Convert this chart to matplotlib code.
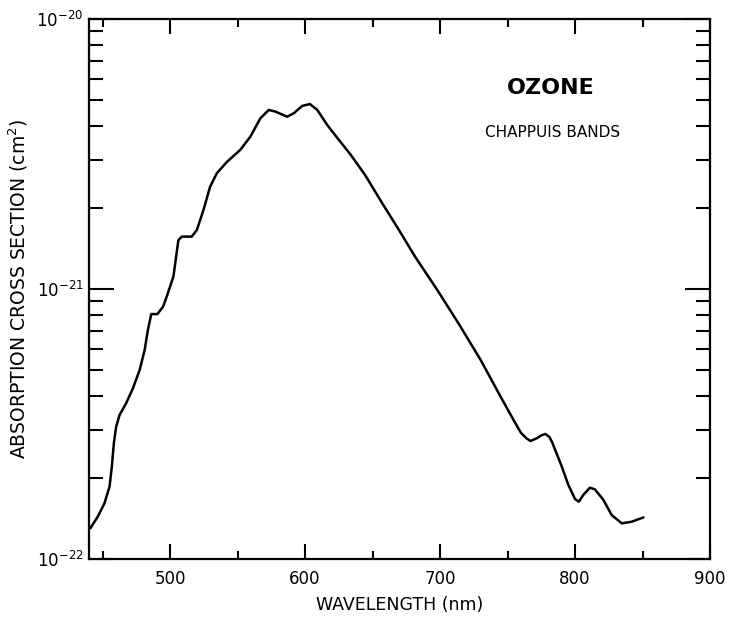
import numpy as np
import matplotlib
matplotlib.use("Agg")
import matplotlib.pyplot as plt
from matplotlib.ticker import LogLocator, NullFormatter, FixedLocator

# Ozone Chappuis band absorption cross section
wavelength = [441, 446.5, 451.4, 455.2, 456.9, 458.4, 460.1, 462.6, 467.5,
              472.5, 477.5, 481.2, 483.6, 486.1, 490.6, 494.8, 497.5, 502.5,
              506.2, 508.7, 516.1, 519.9, 524.8, 529.7, 534.7, 542.2, 552,
              559.5, 566.9, 573.1, 578.1, 586.7, 591.7, 597.9, 603.6, 609.1,
              616.5, 625.1, 634, 644.5, 657, 669.5, 681.6, 698, 714, 730, 745,
              755, 760, 764, 767, 772, 775, 778, 781, 783, 786, 790, 795, 800,
              802.8, 806.1, 811, 814.7, 821, 827.1, 834.6, 842, 850.7]
log_sigma = [-21.886, -21.843, -21.794, -21.732, -21.658, -21.571, -21.51,
             -21.467, -21.423, -21.368, -21.3, -21.226, -21.152, -21.093,
             -21.093, -21.066, -21.029, -20.954, -20.819, -20.806, -20.806,
             -20.781, -20.707, -20.621, -20.571, -20.529, -20.485, -20.436,
             -20.368, -20.337, -20.343, -20.362, -20.349, -20.322, -20.315,
             -20.337, -20.393, -20.448, -20.504, -20.578, -20.681, -20.781,
             -20.881, -21.004, -21.13, -21.262, -21.4, -21.49, -21.533,
             -21.553, -21.563, -21.552, -21.542, -21.537, -21.548, -21.567,
             -21.605, -21.655, -21.725, -21.778, -21.788, -21.763, -21.736,
             -21.742, -21.781, -21.837, -21.868, -21.862, -21.846]
sigma = [10 ** v for v in log_sigma]

x_ticks = [500, 600, 700, 800, 900]
x_minor = [450, 550, 650, 750, 850]
y_ticks = [1e-22, 1e-21, 1e-20]
y_tick_labels = ["10$^{-22}$", "10$^{-21}$", "10$^{-20}$"]

fig = plt.figure(figsize=(7.37, 6.2), dpi=100)
ax = fig.add_axes([0.1208, 0.0984, 0.8426, 0.871])

ax.plot(wavelength, sigma, color="black", lw=1.8,
        solid_joinstyle="round", solid_capstyle="round")

ax.set_yscale("log")
ax.set_xlim(440, 900)
ax.set_ylim(1e-22, 1e-20)

ax.xaxis.set_major_locator(FixedLocator(x_ticks))
ax.xaxis.set_minor_locator(FixedLocator(x_minor))
ax.yaxis.set_major_locator(FixedLocator(y_ticks))
ax.yaxis.set_minor_locator(LogLocator(base=10, subs=np.arange(2, 10)))
ax.yaxis.set_minor_formatter(NullFormatter())
ax.set_yticklabels(y_tick_labels)

ax.tick_params(which="both", direction="in", top=True, right=True,
               width=1.5, labelsize=12, color="black")
ax.tick_params(axis="x", which="major", length=11, pad=8)
ax.tick_params(axis="x", which="minor", length=6)
ax.tick_params(axis="y", which="major", length=18, pad=4)
ax.tick_params(axis="y", which="minor", length=10)

for s in ax.spines.values():
    s.set_linewidth(1.6)

ax.set_xlabel("WAVELENGTH (nm)", fontsize=12.5, labelpad=6)
ax.set_ylabel("ABSORPTION CROSS SECTION (cm$^2$)", fontsize=13.5)
ax.yaxis.set_label_coords(-0.095, 0.5)

ax.text(782, 10 ** -20.256, "OZONE", fontsize=16, fontweight="bold",
        ha="center", va="center")
ax.text(783, 10 ** -20.419, "CHAPPUIS BANDS", fontsize=11,
        ha="center", va="center")

fig.savefig("out.png", dpi=100)
